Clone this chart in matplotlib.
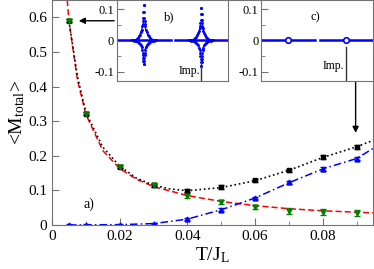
import matplotlib
matplotlib.use("Agg")
import matplotlib.pyplot as plt
from matplotlib.ticker import MultipleLocator

plt.rcParams['font.family'] = ['Liberation Serif', 'DejaVu Serif']
plt.rcParams['mathtext.fontset'] = 'custom'
plt.rcParams['mathtext.rm'] = 'Liberation Serif'
plt.rcParams['mathtext.it'] = 'Liberation Serif:italic'

# main panel a): magnetisation vs temperature
T = [0.005, 0.01, 0.02, 0.03, 0.04, 0.05, 0.06, 0.07, 0.08, 0.09]
m_black = [0.59, 0.322, 0.168, 0.115, 0.099, 0.110, 0.129, 0.158, 0.197, 0.226]
e_black = [0.004, 0.004, 0.004, 0.004, 0.005, 0.005, 0.005, 0.005, 0.005, 0.006]
m_green = [0.59, 0.322, 0.168, 0.115, 0.085, 0.066, 0.052, 0.040, 0.038, 0.035]
e_green = [0.004, 0.004, 0.004, 0.005, 0.006, 0.006, 0.007, 0.008, 0.008, 0.008]
m_blue = [0.0, 0.0005, 0.001, 0.004, 0.017, 0.044, 0.078, 0.123, 0.162, 0.192]
e_blue = [0.002, 0.002, 0.002, 0.002, 0.003, 0.004, 0.004, 0.005, 0.005, 0.005]

# fitted curves
red_x = [0.0045, 0.005, 0.0075, 0.01, 0.015, 0.02, 0.025, 0.03, 0.04, 0.05, 0.06, 0.07, 0.08, 0.09, 0.095]
red_y = [0.65, 0.59, 0.42, 0.32, 0.215, 0.163, 0.132, 0.111, 0.085, 0.068, 0.056, 0.047, 0.041, 0.037, 0.035]
blk_x = [0.005, 0.0075, 0.01, 0.015, 0.02, 0.025, 0.03, 0.035, 0.04, 0.05, 0.06, 0.07, 0.08, 0.09, 0.095]
blk_y = [0.59, 0.43, 0.325, 0.225, 0.17, 0.135, 0.115, 0.104, 0.099, 0.108, 0.128, 0.158, 0.195, 0.226, 0.245]
blu_x = [0.005, 0.01, 0.02, 0.03, 0.04, 0.05, 0.06, 0.07, 0.08, 0.09, 0.095]
blu_y = [0.0, 0.0005, 0.001, 0.004, 0.017, 0.044, 0.078, 0.122, 0.162, 0.192, 0.222]

# insets b) and c): site profile along two chain segments
seg1 = [0, 54]
seg2 = [59, 112]
imp_sites = [27, 85]
star_dx = [0, 0.3, 0.6, 0.8, 1.0, 1.3, 2, 3, 4, 5, 6, 7, 8, 10, 12]
star1_up = [0.114, 0.093, 0.072, 0.063, 0.053, 0.045, 0.035, 0.027, 0.019, 0.013, 0.008, 0.005, 0.003, 0.001, 0.0]
star1_dn = [-0.076, -0.066, -0.055, -0.047, -0.039, -0.030, -0.022, -0.016, -0.011, -0.007, -0.004, -0.003, -0.002, -0.001, 0.0]
star2_up = [0.104, 0.085, 0.066, 0.057, 0.048, 0.041, 0.032, 0.024, 0.017, 0.012, 0.007, 0.005, 0.003, 0.001, 0.0]
star2_dn = [-0.082, -0.070, -0.058, -0.050, -0.041, -0.031, -0.023, -0.016, -0.011, -0.007, -0.004, -0.003, -0.002, -0.001, 0.0]

fig = plt.figure(figsize=(3.74, 2.69), dpi=100)
ax = fig.add_axes([0.139, 0.1636, 0.858, 0.8364])

grey = '0.45'
ax.plot(red_x, red_y, '--', color='red', lw=1.1, dashes=(4, 2))
ax.plot(blk_x, blk_y, ':', color='black', lw=1.2)
ax.plot(blu_x, blu_y, '-.', color='blue', lw=1.1, dashes=(5, 2, 1, 2))
ax.errorbar(T, m_black, yerr=e_black, fmt='s', color='black', ms=3.5, capsize=2.5, elinewidth=1)
ax.errorbar(T, m_blue, yerr=e_blue, fmt='^', color='blue', ms=3.5, capsize=2.5, elinewidth=1)
ax.errorbar(T, m_green, yerr=e_green, fmt='v', color='green', ms=3.5, capsize=2.5, elinewidth=1)

ax.set_xlim(0, 0.0948)
ax.set_ylim(0, 0.65)
ax.xaxis.set_minor_locator(MultipleLocator(0.01))
ax.set_xticks([0, 0.02, 0.04, 0.06, 0.08])
ax.set_xticklabels(['0', '0.02', '0.04', '0.06', '0.08'])
ax.set_yticks([0, 0.1, 0.2, 0.3, 0.4, 0.5, 0.6])
ax.set_yticklabels(['0', '0.1', '0.2', '0.3', '0.4', '0.5', '0.6'])
ax.tick_params(which='both', direction='in', labelsize=11, color=grey, top=False, right=False)
ax.tick_params(which='major', length=5)
ax.tick_params(which='minor', length=3)
for s in ax.spines.values():
    s.set_color(grey)
ax.set_xlabel('T/J$_\\mathrm{L}$', fontsize=14, labelpad=2)
ax.set_ylabel('<M$_\\mathrm{total}$>', fontsize=14, labelpad=1)
ax.text(0.0092, 0.05, 'a)', fontsize=10)

# arrows pointing from insets to data points
ax.annotate('', xy=(0.0071, 0.59), xytext=(0.0192, 0.59),
            arrowprops=dict(arrowstyle='-|>', color='black', lw=1, mutation_scale=9))
ax.annotate('', xy=(0.0897, 0.258), xytext=(0.0897, 0.423),
            arrowprops=dict(arrowstyle='-|>', color='black', lw=1, mutation_scale=9))


def setup_inset(axi):
    axi.set_xlim(0, 112)
    axi.set_ylim(-0.13, 0.13)
    axi.set_xticks([])
    axi.set_yticks([-0.1, 0, 0.1])
    axi.set_yticklabels(['-0.1', '0', '0.1'])
    axi.yaxis.set_minor_locator(MultipleLocator(0.05))
    axi.tick_params(which='both', direction='in', labelsize=9, color=grey, pad=2)
    axi.tick_params(which='major', length=5)
    axi.tick_params(which='minor', length=3)
    for s in axi.spines.values():
        s.set_color(grey)


axb = fig.add_axes([0.3128, 0.699, 0.2968, 0.301])
setup_inset(axb)
for seg in (seg1, seg2):
    axb.plot(seg, [0, 0], color='blue', lw=1.8)
for c, up, dn in ((imp_sites[0], star1_up, star1_dn), (imp_sites[1], star2_up, star2_dn)):
    for sgn in (-1, 1):
        xs = [c + sgn * d for d in star_dx]
        axb.plot(xs[5:], up[5:], color='blue', lw=0.9)
        axb.plot(xs[5:], dn[5:], color='blue', lw=0.9)
        axb.plot(xs, up, 'o', color='blue', ms=1.1)
        axb.plot(xs, dn, 'o', color='blue', ms=1.1)
axb.text(53, 0.076, 'b)', fontsize=9, ha='center', va='center')
axb.text(83.5, -0.098, 'Imp.', fontsize=8.5, ha='right', va='center')
axb.plot([imp_sites[1], imp_sites[1]], [-0.07, -0.13], color='0.2', lw=1)

axc = fig.add_axes([0.698, 0.699, 0.2995, 0.301])
setup_inset(axc)
for seg in (seg1, seg2):
    axc.plot(seg, [0, 0], color='blue', lw=1.8)
axc.plot(imp_sites, [0, 0], 'o', color='blue', mfc='white', ms=4, mew=1.2)
axc.text(54, 0.073, 'c)', fontsize=9, ha='center', va='center')
axc.text(83.5, -0.083, 'Imp.', fontsize=8.5, ha='right', va='center')
axc.plot([imp_sites[1], imp_sites[1]], [-0.021, -0.13], color='0.2', lw=1)

fig.savefig('out.png', dpi=100)
